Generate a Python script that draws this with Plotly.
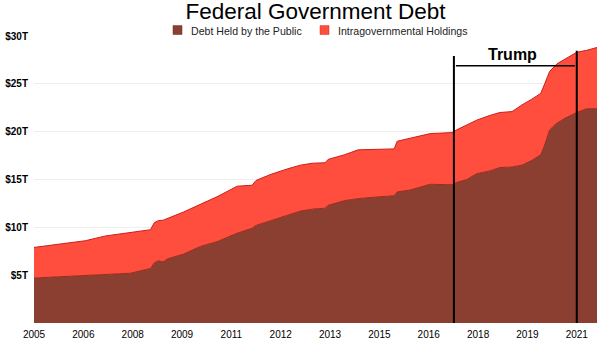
import plotly.graph_objects as go

# axis position (one unit per tick label interval)
t = [0.0, 0.54, 1.04, 1.45, 1.95, 2.36, 2.44, 2.52, 2.62, 2.70, 3.03, 3.37, 3.71,
     4.12, 4.42, 4.50, 4.78, 5.13, 5.40, 5.64, 5.90, 5.96, 6.30, 6.57, 7.01, 7.30,
     7.36, 7.62, 8.03, 8.47, 8.57, 8.77, 8.97, 9.24, 9.44, 9.69, 9.89, 10.09, 10.27,
     10.35, 10.45, 10.60, 10.76, 11.00, 11.20, 11.41]

# trillions of dollars
public = [4.7, 4.85, 4.95, 5.1, 5.2, 5.7, 6.3, 6.5, 6.4, 6.7, 7.2, 8.0, 8.5,
          9.4, 9.9, 10.2, 10.7, 11.25, 11.7, 11.9, 12.0, 12.3, 12.8, 13.0, 13.2, 13.3,
          13.7, 13.9, 14.5, 14.45, 14.7, 15.0, 15.6, 15.9, 16.25, 16.3, 16.5, 17.0, 17.6,
          18.6, 20.2, 20.9, 21.4, 22.0, 22.4, 22.4]

intragov = [3.2, 3.45, 3.65, 4.0, 4.25, 4.05, 4.2, 4.2, 4.35, 4.2, 4.4, 4.4, 4.7,
            4.9, 4.5, 4.7, 4.8, 4.85, 4.8, 4.8, 4.75, 4.8, 4.8, 5.1, 4.95, 4.9,
            5.3, 5.4, 5.3, 5.45, 5.5, 5.7, 5.6, 5.8, 5.75, 5.8, 6.3, 6.4, 6.4,
            6.4, 6.1, 6.2, 6.2, 6.3, 6.1, 6.4]

tick_pos = list(range(12))
tick_years = ["2005", "2006", "2008", "2009", "2011", "2012", "2013", "2015",
              "2016", "2018", "2019", "2021"]
y_ticks = [5, 10, 15, 20, 25, 30]

series_names = ["Debt Held by the Public", "Intragovernmental Holdings"]

term_start, term_end = 8.51, 11.0
term_label = "Trump"

FONT = "Liberation Sans, Arial, Helvetica, sans-serif"
C_PUB, C_INT = "#8a3f31", "#ff4e3e"

W, H = 600, 343
ML, MR, MT, MB = 34, 3, 36, 18
PW, PH = W - ML - MR, H - MT - MB


def px_to_paper(px, py):
    return (px - ML) / PW, (H - MB - py) / PH


fig = go.Figure()
fig.add_trace(go.Scatter(x=t, y=public, stackgroup="debt", mode="lines",
                         line=dict(color="#9a2a1c", width=1), fillcolor=C_PUB,
                         name=series_names[0], showlegend=False))
fig.add_trace(go.Scatter(x=t, y=intragov, stackgroup="debt", mode="lines",
                         line=dict(color="#c8201a", width=1), fillcolor=C_INT,
                         name=series_names[1], showlegend=False))

# legend (swatch + label) drawn at top
legend_items = [(series_names[0], C_PUB, "#6e2a20", 173, 189),
                (series_names[1], C_INT, "#d0301f", 320, 336)]
for name, fc, lc, sx, tx in legend_items:
    x0, y0 = px_to_paper(sx, 34.5)
    x1, y1 = px_to_paper(sx + 9, 25.5)
    fig.add_shape(type="rect", xref="paper", yref="paper", x0=x0, x1=x1, y0=y0, y1=y1,
                  fillcolor=fc, line=dict(color=lc, width=0.5))
    ax, ay = px_to_paper(tx, 30.5)
    fig.add_annotation(xref="paper", yref="paper", x=ax, y=ay, text=name,
                       showarrow=False, xanchor="left", yanchor="middle",
                       font=dict(family=FONT, size=10.6, color="#222"))

# term markers
for xv, ytop in [(term_start, 27.9), (term_end, 28.45)]:
    fig.add_shape(type="line", x0=xv, x1=xv, y0=0, y1=ytop, xref="x", yref="y",
                  line=dict(color="black", width=2), layer="above")
fig.add_shape(type="line", x0=term_start + 0.04, x1=term_end - 0.04, y0=26.9, y1=26.9,
              xref="x", yref="y", line=dict(color="black", width=1.5), layer="above")
fig.add_annotation(x=9.69, y=28.1, text="<b>%s</b>" % term_label,
                   showarrow=False, xref="x", yref="y",
                   font=dict(family=FONT, size=16, color="black"))

fig.update_layout(
    width=W, height=H,
    margin=dict(l=ML, r=MR, t=MT, b=MB),
    paper_bgcolor="white", plot_bgcolor="white",
    title=dict(text="Federal Government Debt", x=0.5, xanchor="center", xref="paper",
               y=0.967, yanchor="middle", yref="container",
               font=dict(family=FONT, size=22.5, color="black")),
    showlegend=False,
    font=dict(family=FONT),
)
fig.update_xaxes(range=[0, 11.41], tickmode="array", tickvals=tick_pos, ticktext=tick_years,
                 showgrid=False, zeroline=False, showline=False, ticks="",
                 ticklabelstandoff=4,
                 tickfont=dict(family=FONT, size=10, color="black"))
fig.update_yaxes(range=[0, 30], tickmode="array", tickvals=y_ticks,
                 ticktext=["$%dT" % v for v in y_ticks],
                 showgrid=True, gridcolor="#eeeeee", gridwidth=1,
                 zeroline=False, showline=False, ticks="", ticklabelstandoff=5,
                 tickfont=dict(family=FONT, size=10, color="black", weight="bold"))

fig.write_html("out.html")
